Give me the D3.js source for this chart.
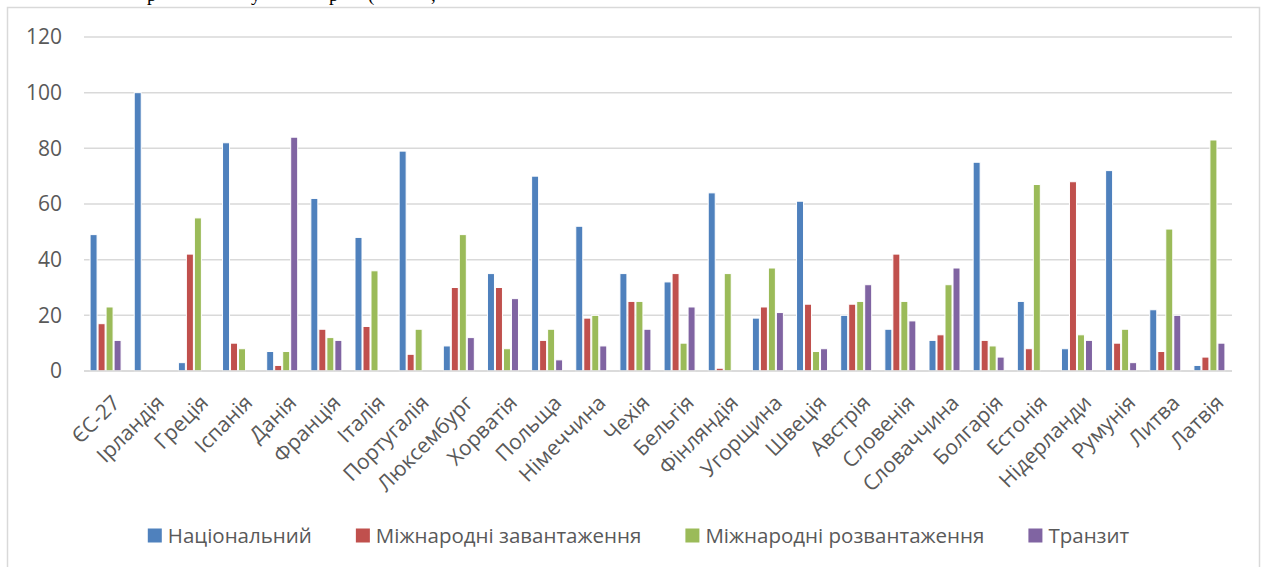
<!DOCTYPE html>
<html><head><meta charset="utf-8">
<script src="https://cdn.jsdelivr.net/npm/d3@7"></script>
<style>
html,body{margin:0;padding:0;background:#fff;overflow:hidden;}
svg{display:block;}
</style></head>
<body>
<svg id="chart" width="1261" height="567"></svg>
<script>
const categories = ["ЄС-27","Ірландія","Греція","Іспанія","Данія","Франція","Італія","Португалія","Люксембург","Хорватія","Польща","Німеччина","Чехія","Бельгія","Фінляндія","Угорщина","Швеція","Австрія","Словенія","Словаччина","Болгарія","Естонія","Нідерланди","Румунія","Литва","Латвія"];
const seriesNames = ["Національний","Міжнародні завантаження","Міжнародні розвантаження","Транзит"];
const national      = [49,100,3,82,7,62,48,79,9,35,70,52,35,32,64,19,61,20,15,11,75,25,8,72,22,2];
const intlLoading   = [17,0,42,10,2,15,16,6,30,30,11,19,25,35,1,23,24,24,42,13,11,8,68,10,7,5];
const intlUnloading = [23,0,55,8,7,12,36,15,49,8,15,20,25,10,35,37,7,25,25,31,9,67,13,15,51,83];
const transit       = [11,0,0,0,84,11,0,0,12,26,4,9,15,23,0,21,8,31,18,37,5,0,11,3,20,10];
const yTicks = [0,20,40,60,80,100,120];
const colors = ["#4F81BD","#C0504D","#9BBB59","#8064A2"];
const topGlyphs = ["р","у","р","(",","];

(function(){
const values = [national, intlLoading, intlUnloading, transit];
const svg = d3.select("#chart");
const FONT = "'Open Sans', sans-serif";
const TXT = "#595959";
const GRID = "#d9d9d9";

// clipped text line of the document above the chart
const glyphX = [147, 251, 329, 368, 431];
svg.append("g").selectAll("text").data(topGlyphs).join("text")
  .attr("x", (d,i) => glyphX[i]).attr("y", 0.5)
  .attr("font-family", "'Liberation Serif', serif").attr("font-size", 19)
  .attr("fill", "#000").text(d => d);

// chart border
svg.append("rect").attr("x", 7.5).attr("y", 7.5).attr("width", 1252).attr("height", 600)
  .attr("fill", "none").attr("stroke", GRID).attr("stroke-width", 1.5);

const pl = 84, pr = 1232, pt = 37, pb = 371;
const x0 = d3.scaleBand().domain(categories).range([pl, pr]).paddingInner(0.275).paddingOuter(0.1375);
const x1 = d3.scaleBand().domain(d3.range(4)).range([0, x0.bandwidth()]);
const y = d3.scaleLinear().domain([0, 120]).range([pb, pt]);

// gridlines
svg.append("g").selectAll("line").data(yTicks).join("line")
  .attr("x1", pl).attr("x2", pr)
  .attr("y1", d => y(d)).attr("y2", d => y(d))
  .attr("stroke", GRID).attr("stroke-width", 1.5);

// y axis labels
const yAxis = d3.axisLeft(y).tickValues(yTicks).tickSize(0).tickPadding(0);
const yg = svg.append("g").attr("transform", `translate(${pl - 22},0)`).call(yAxis);
yg.select(".domain").remove();
yg.selectAll("text").attr("font-family", FONT).attr("font-size", 21).attr("fill", TXT);

// bars
const groups = svg.append("g").selectAll("g").data(categories).join("g")
  .attr("transform", d => `translate(${x0(d)},0)`);
groups.selectAll("rect").data((c, ci) => values.map((arr, si) => ({si, v: arr[ci]})))
  .join("rect")
  .attr("x", d => x1(d.si))
  .attr("width", x1.bandwidth() - 1)
  .attr("y", d => y(d.v))
  .attr("height", d => y(0) - y(d.v))
  .attr("fill", d => colors[d.si])
  .attr("stroke", d => d.v > 0 ? "#fff" : "none").attr("stroke-width", 1);

// x axis line
svg.append("line").attr("x1", pl).attr("x2", pr).attr("y1", y(0)).attr("y2", y(0))
  .attr("stroke", GRID).attr("stroke-width", 1.5);

// category labels
const xAxis = d3.axisBottom(x0).tickSize(0).tickPadding(0);
const xg = svg.append("g").attr("transform", `translate(0,${pb})`).call(xAxis);
xg.select(".domain").remove();
xg.selectAll("text")
  .attr("font-family", FONT).attr("font-size", 21).attr("fill", TXT)
  .attr("text-anchor", "end")
  .attr("x", 0).attr("y", 0).attr("dy", "0.75em")
  .attr("transform", "translate(4,22) rotate(-45)");

// legend
const legend = svg.append("g");
const items = legend.selectAll("g").data(seriesNames).join("g");
items.append("rect").attr("width", 14).attr("height", 14).attr("y", -7)
  .attr("fill", (d,i) => colors[i]);
items.append("text").attr("x", 20).attr("dy", "0.36em")
  .attr("font-family", FONT).attr("font-size", 20.5).attr("fill", TXT).text(d => d);
const GAP = 44;
let pos = 0; const offs = [];
items.each(function() {
  offs.push(pos);
  pos += 20 + d3.select(this).select("text").node().getComputedTextLength() + GAP;
});
const totalW = pos - GAP;
const startX = 638.5 - totalW / 2;
items.attr("transform", (d,i) => `translate(${startX + offs[i]},535.5)`);
})();
</script>
</body></html>
